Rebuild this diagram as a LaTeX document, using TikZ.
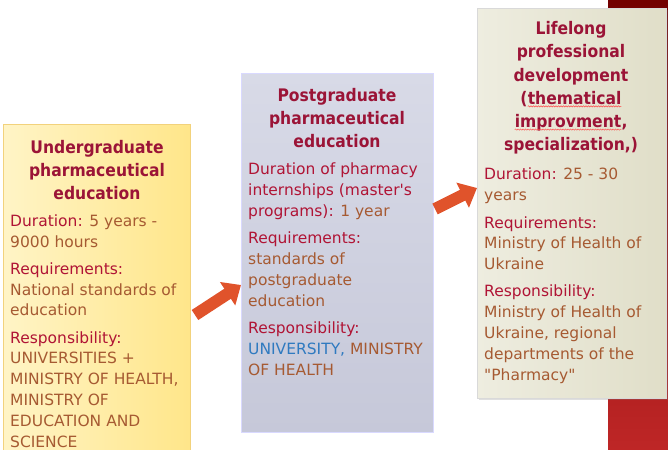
\documentclass[tikz,border=0pt]{standalone}
\usepackage{fontspec}
\setmainfont{DejaVu Sans}
\newfontfamily\titlefont{DejaVu Sans Condensed}
\usetikzlibrary{arrows.meta,shadows,decorations.pathmorphing}

\definecolor{titlered}{HTML}{9B1437}
\definecolor{labelred}{HTML}{B01435}
\definecolor{valbrown}{HTML}{A65A32}
\definecolor{unblue}{HTML}{2F7AC0}
\definecolor{arrowred}{HTML}{E0532B}
\definecolor{underlight}{HTML}{FFF4C6}
\definecolor{underdark}{HTML}{FFE68A}
\definecolor{underline}{HTML}{F2D27C}
\definecolor{postlight}{HTML}{D8DAE7}
\definecolor{postdark}{HTML}{C6C8D9}
\definecolor{lifelight}{HTML}{EEEDE0}
\definecolor{lifedark}{HTML}{E0DEC8}

\newcommand{\lbl}[1]{{\color{labelred}#1}}
\newcommand{\squig}[1]{\tikz[baseline=(w.base)]{%
  \node [inner sep=0pt, outer sep=0pt] (w) {#1};
  \draw [red!70, line width=0.5pt, decorate, decoration={snake, amplitude=0.6pt, segment length=2.5pt}]
    ([yshift=-2pt]w.base west) -- ([yshift=-2pt]w.base east);}}

\tikzset{%
  every stage/.style={
    rectangle,
    draw,
    anchor=north west,
    inner sep=0pt
  },
  stage under/.style={
    draw=underline,
    left color=underlight,
    right color=underdark
  },
  stage post/.style={
    draw=white!85!blue,
    top color=postlight,
    bottom color=postdark
  },
  stage life/.style={
    draw=gray!30,
    left color=lifelight,
    right color=lifedark,
    drop shadow={opacity=0.25, shadow xshift=2pt, shadow yshift=-2pt}
  },
  stage title/.style={
    font=\titlefont\bfseries\fontsize{17.3}{23.2}\selectfont,
    text=titlered,
    align=center
  },
  stage text/.style={
    font=\fontsize{15.5}{20.8}\selectfont,
    text=valbrown,
    align=left,
    anchor=north west,
    inner sep=0pt
  },
  step arrow/.style={
    draw=arrowred,
    line width=12pt,
    -{Triangle[width=27pt,length=16pt]}
  },
}

\begin{document}
\begin{tikzpicture}[x=1pt, y=-1pt]

\useasboundingbox (0,0) rectangle (668,449);

% red band on the right
\shade[top color=red!45!black, bottom color=red!70!black!85] (608,0) rectangle (668,449);

% the three stages
\node [every stage, stage under, minimum width=187pt, minimum height=340pt] (under) at (3,124) {};
\node [every stage, stage post, minimum width=192pt, minimum height=359pt] (post) at (241,73) {};
\node [every stage, stage life, minimum width=189pt, minimum height=390pt] (life) at (477,8) {};

\node [stage title] (under-title) at (97,170) {Undergraduate\\pharmaceutical\\education};
\node [stage title] (post-title) at (337,118) {Postgraduate\\pharmaceutical\\education};
\node [stage title] (life-title) at (571,88)
  {Lifelong\\professional\\development\\(\squig{thematical}\\\squig{improvment},\\specialization,)};

\node [stage text] (under-text) at (10,214.5) {%
  \lbl{Duration:} 5 years -\\
  9000 hours\\[6.3pt]
  \lbl{Requirements:}\\
  National standards of\\
  education\\[6.3pt]
  \lbl{Responsibility:}\\
  UNIVERSITIES +\\
  MINISTRY OF HEALTH,\\
  MINISTRY OF\\
  EDUCATION AND\\
  SCIENCE};

\node [stage text] (post-text) at (248,163) {%
  \lbl{Duration of pharmacy}\\
  \lbl{internships (master\textquotesingle s}\\
  \lbl{programs):} 1 year\\[6.5pt]
  \lbl{Requirements:}\\
  standards of\\
  postgraduate\\
  education\\[6.5pt]
  \lbl{Responsibility:}\\
  {\color{unblue}UNIVERSITY,} MINISTRY\\
  OF HEALTH};

\node [stage text] (life-text) at (484,168) {%
  \lbl{Duration:} 25 - 30\\
  years\\[6.5pt]
  \lbl{Requirements:}\\
  Ministry of Health of\\
  Ukraine\\[6.5pt]
  \lbl{Responsibility:}\\
  Ministry of Health of\\
  Ukraine, regional\\
  departments of the\\
  \textquotedbl Pharmacy\textquotedbl};

% arrows between the stages
\coordinate (arrow1-tail) at (195,315);
\coordinate (arrow1-head) at (post.west |- 0,285);
\coordinate (arrow2-tail) at (435,209);
\coordinate (arrow2-head) at (life.west |- 0,188);

\draw [step arrow] (arrow1-tail) -- (arrow1-head);
\draw [step arrow] (arrow2-tail) -- (arrow2-head);

\end{tikzpicture}
\end{document}
